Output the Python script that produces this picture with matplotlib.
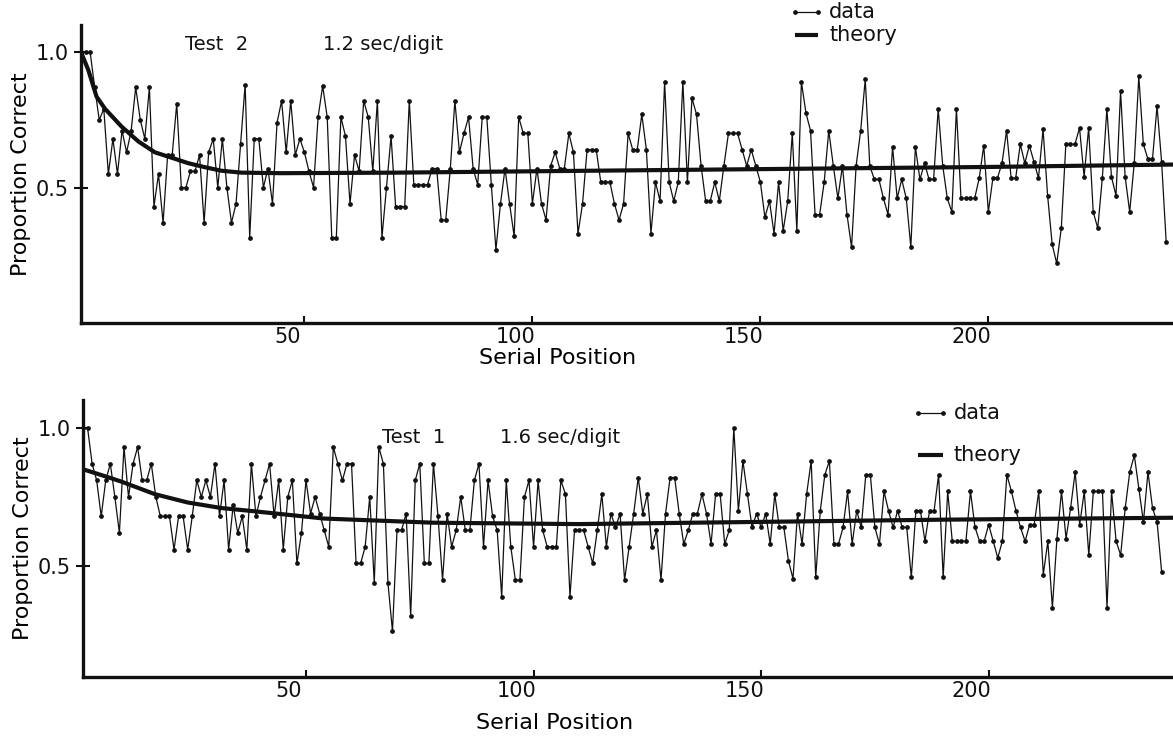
import matplotlib
matplotlib.use("Agg")
import matplotlib.pyplot as plt
import numpy as np
from matplotlib.transforms import ScaledTranslation

INK = "#111111"

# --- Test 2 (1.2 sec/digit): proportion correct by serial position ---
test2_data = [
    1.0, 1.0, 1.0, 0.87, 0.75, 0.79, 0.55, 0.68, 0.55, 0.71, 0.63, 0.71, 0.87, 0.75, 0.68,
    0.87, 0.43, 0.55, 0.37, 0.62, 0.62, 0.81, 0.50, 0.50, 0.56, 0.56, 0.62, 0.37, 0.63, 0.68,
    0.50, 0.68, 0.50, 0.37, 0.44, 0.66, 0.88,
    0.315, 0.68, 0.68, 0.50, 0.57, 0.44, 0.74, 0.82, 0.63, 0.82, 0.62, 0.68, 0.63, 0.56, 0.50,
    0.76, 0.875, 0.76, 0.315, 0.315, 0.76, 0.69, 0.44, 0.62, 0.56, 0.82, 0.76, 0.56, 0.82, 0.315,
    0.50, 0.69, 0.43, 0.43, 0.43, 0.82, 0.51, 0.51, 0.51, 0.51,
    0.57, 0.57, 0.38, 0.38, 0.57, 0.82, 0.63, 0.70, 0.76, 0.57, 0.51, 0.76, 0.76, 0.51, 0.27,
    0.44, 0.57, 0.44, 0.32, 0.76, 0.70, 0.70, 0.44, 0.57, 0.44, 0.38, 0.58, 0.63, 0.57, 0.57,
    0.70, 0.63, 0.33, 0.44, 0.64, 0.64, 0.64, 0.52, 0.52, 0.52, 0.44,
    0.38, 0.44, 0.70, 0.64, 0.64, 0.77, 0.64, 0.33, 0.52, 0.45, 0.89, 0.52, 0.45, 0.52, 0.89,
    0.52, 0.83, 0.77, 0.58, 0.45, 0.45, 0.52, 0.45, 0.58, 0.70, 0.70, 0.70, 0.64, 0.58, 0.64,
    0.58, 0.52, 0.39, 0.45, 0.33, 0.52, 0.34, 0.45, 0.70, 0.34, 0.89,
    0.775, 0.71, 0.40, 0.40, 0.52, 0.71, 0.58, 0.46, 0.58, 0.40, 0.28, 0.58, 0.71, 0.90, 0.58,
    0.53, 0.53, 0.46, 0.40, 0.65, 0.46, 0.53, 0.46, 0.28, 0.65, 0.53, 0.59, 0.53, 0.53, 0.79,
    0.58, 0.46, 0.41, 0.79, 0.46, 0.46, 0.46, 0.46, 0.535, 0.655,
    0.41, 0.535, 0.535, 0.59, 0.71, 0.535, 0.535, 0.66, 0.59, 0.655, 0.595, 0.535, 0.715, 0.47,
    0.29, 0.22, 0.35, 0.66, 0.66, 0.66, 0.72, 0.54, 0.72, 0.41, 0.35, 0.535, 0.79, 0.54, 0.47,
    0.855, 0.54, 0.41, 0.59, 0.91, 0.66, 0.605, 0.605, 0.80, 0.595, 0.30,
]
test2_theory_x = [1, 2.6, 4.4, 6.3, 9.9, 13.6, 17.2, 20.9, 24.5, 28.2, 31.8, 36.2, 45, 70, 100, 150, 200, 241]
test2_theory_y = [1.0, 0.934, 0.836, 0.79, 0.725, 0.67, 0.63, 0.61, 0.59, 0.575, 0.562, 0.555,
                  0.553, 0.555, 0.56, 0.568, 0.576, 0.585]

# --- Test 1 (1.6 sec/digit) ---
test1_data = [
    1.0, 1.0, 0.87, 0.81, 0.68, 0.81, 0.87, 0.75, 0.62, 0.93, 0.75, 0.87, 0.93, 0.81, 0.81,
    0.87, 0.75, 0.68, 0.68, 0.68, 0.56, 0.68, 0.68, 0.56, 0.68, 0.81, 0.75, 0.81, 0.75, 0.87,
    0.68, 0.81, 0.56, 0.72, 0.62, 0.68, 0.56,
    0.87, 0.68, 0.75, 0.81, 0.87, 0.68, 0.81, 0.56, 0.75, 0.81, 0.51, 0.62, 0.81, 0.69, 0.75,
    0.69, 0.63, 0.57, 0.93, 0.87, 0.81, 0.87, 0.87, 0.51, 0.51, 0.57, 0.75, 0.44, 0.93, 0.87,
    0.44, 0.265, 0.63, 0.63, 0.69, 0.32, 0.81, 0.87, 0.51, 0.51, 0.87,
    0.68, 0.45, 0.69, 0.57, 0.63, 0.75, 0.63, 0.63, 0.81, 0.87, 0.57, 0.81, 0.68, 0.63, 0.39,
    0.81, 0.57, 0.45, 0.45, 0.75, 0.81, 0.57, 0.81, 0.63, 0.57, 0.57, 0.57, 0.81, 0.76, 0.39,
    0.63, 0.63, 0.63, 0.57, 0.51, 0.63, 0.76, 0.57, 0.69, 0.64,
    0.69, 0.45, 0.57, 0.69, 0.82, 0.69, 0.76, 0.57, 0.63, 0.45, 0.69, 0.82, 0.82, 0.69, 0.58,
    0.63, 0.69, 0.69, 0.76, 0.69, 0.58, 0.76, 0.76, 0.58, 0.63, 1.0, 0.70, 0.88, 0.76, 0.64,
    0.69, 0.64, 0.69, 0.58, 0.76, 0.64, 0.64, 0.52, 0.455, 0.69, 0.58,
    0.76, 0.88, 0.46, 0.70, 0.83, 0.88, 0.58, 0.58, 0.64, 0.77, 0.58, 0.70, 0.64, 0.83, 0.83,
    0.64, 0.58, 0.77, 0.70, 0.64, 0.70, 0.64, 0.64, 0.46, 0.70, 0.70, 0.59, 0.70, 0.70, 0.83,
    0.46, 0.77, 0.59, 0.59, 0.59, 0.59, 0.77, 0.64, 0.59,
    0.59, 0.65, 0.59, 0.53, 0.59, 0.83, 0.77, 0.70, 0.64, 0.59, 0.65, 0.65, 0.77, 0.47, 0.59,
    0.35, 0.60, 0.77, 0.60, 0.71, 0.84, 0.65, 0.77, 0.54, 0.77, 0.77, 0.77, 0.35, 0.77, 0.59,
    0.54, 0.71, 0.84, 0.90, 0.78, 0.66, 0.84, 0.71, 0.66, 0.48,
]
test1_theory_x = [1, 5.8, 9.5, 16.8, 24, 31.4, 37.6, 54, 78, 110, 150, 190, 241]
test1_theory_y = [0.85, 0.825, 0.805, 0.76, 0.73, 0.71, 0.70, 0.672, 0.657, 0.652, 0.66, 0.668, 0.675]

x_ticks = [50, 100, 150, 200]
y_ticks = [0.5, 1.0]
y_ticklabels = ["0.5", "1.0"]

plt.rcParams.update({
    "font.family": "DejaVu Sans",
    "font.size": 15,
    "text.color": INK,
    "axes.edgecolor": INK,
    "xtick.color": INK,
    "ytick.color": INK,
})

fig = plt.figure(figsize=(11.73, 7.42), dpi=100)


def panel(rect, ylim, data, tx, ty, test_txt, rate_txt, txt_pos, leg):
    ax = fig.add_axes(rect)
    xs = np.arange(1, len(data) + 1)
    ax.plot(xs, data, color=INK, lw=0.9, marker="o", ms=2.4)
    ax.plot(tx, ty, color=INK, lw=3.0, solid_capstyle="butt")
    ax.set_xlim(1, 240.5)
    ax.set_ylim(*ylim)
    for s in ("top", "right"):
        ax.spines[s].set_visible(False)
    for s in ("left", "bottom"):
        ax.spines[s].set_linewidth(2.4)
    ax.set_xticks(x_ticks)
    ax.set_yticks(y_ticks)
    ax.set_yticklabels(y_ticklabels)
    ax.tick_params(axis="x", direction="in", length=5, width=1.5, pad=3)
    ax.tick_params(axis="y", direction="inout", length=10, width=1.5, pad=4)
    # labels in the scan sit a bit left of their tick marks
    shift = ScaledTranslation(-0.17, 0, fig.dpi_scale_trans)
    for lab in ax.get_xticklabels():
        lab.set_transform(lab.get_transform() + shift)
    ax.set_ylabel("Proportion Correct", fontsize=16)
    ax.yaxis.set_label_coords(-0.046, 0.5)
    ax.set_xlabel("Serial Position", va="top", fontsize=16)

    ax.text(txt_pos[0], txt_pos[1], test_txt, transform=ax.transAxes, va="center", fontsize=14)
    ax.text(txt_pos[2], txt_pos[1], rate_txt, transform=ax.transAxes, va="center", fontsize=14)

    lx0, lx1, ly_data, ly_theory = leg
    ax.plot([lx0, lx1], [ly_data, ly_data], transform=ax.transAxes, clip_on=False,
            color=INK, lw=0.9, marker="o", ms=2.4)
    ax.plot([lx0, lx1], [ly_theory, ly_theory], transform=ax.transAxes, clip_on=False,
            color=INK, lw=3.0, solid_capstyle="butt")
    ax.text(lx1 + 0.01, ly_data, "data", transform=ax.transAxes, va="center")
    ax.text(lx1 + 0.01, ly_theory, "theory", transform=ax.transAxes, va="center")
    return ax


ax1 = panel([81 / 1173, 1 - 323 / 742, 1092 / 1173, 298 / 742], (0.0, 1.1),
            test2_data, test2_theory_x, test2_theory_y,
            "Test  2", "1.2 sec/digit", (0.095, 0.935, 0.222),
            (0.654, 0.675, 1.044, 0.966))
ax1.xaxis.set_label_coords(0.436, -0.085)

ax2 = panel([83 / 1173, 1 - 677 / 742, 1090 / 1173, 277 / 742], (0.1, 1.1),
            test1_data, test1_theory_x, test1_theory_y,
            "Test  1", "1.6 sec/digit", (0.274, 0.865, 0.383),
            (0.766, 0.789, 0.953, 0.801))
ax2.xaxis.set_label_coords(0.433, -0.13)

fig.savefig("out.png", dpi=100)
